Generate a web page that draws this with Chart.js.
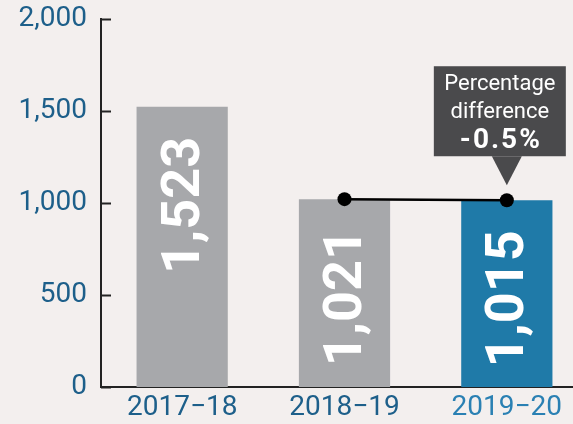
<!DOCTYPE html>
<html>
<head>
<meta charset="utf-8">
<script src="https://cdn.jsdelivr.net/npm/chart.js@4"></script>
<style>
  html, body { margin: 0; padding: 0; background: #f3efee; overflow: hidden; }
  #wrap { width: 595px; height: 424px; }
</style>
</head>
<body>
<div id="wrap"><canvas id="chart"></canvas></div>
<script>
const anos = ["2017\u221218", "2018\u221219", "2019\u221220"];
const valores = [1523, 1021, 1015];
const linha = [null, 1021, 1015];   // ligação entre os dois últimos anos
const yTicks = [0, 500, 1000, 1500, 2000];
const notaTexto = ["Percentage", "difference"];
const notaValor = "-0.5%";

const cinza = '#a7a8ab';
const azul = '#1f7aa8';
const azulTexto = '#1d5f8a';

// rótulos brancos rodados dentro das barras + marcas do eixo + caixa de nota
const extras = {
    id: 'extras',
    afterDatasetsDraw(chart) {
        const ctx = chart.ctx;
        const area = chart.chartArea;
        const y = chart.scales.y;

        // marcas do eixo y (para dentro)
        ctx.save();
        ctx.strokeStyle = '#222';
        ctx.lineWidth = 2;
        yTicks.forEach(v => {
            const py = Math.round(y.getPixelForValue(v)) + 0.5;
            ctx.beginPath();
            ctx.moveTo(area.left, py);
            ctx.lineTo(area.left + 10, py);
            ctx.stroke();
        });
        ctx.restore();

        // valores nas barras
        const barras = chart.getDatasetMeta(1).data;
        ctx.save();
        ctx.fillStyle = '#ffffff';
        ctx.font = 'bold 54px Roboto';
        ctx.textAlign = 'right';
        ctx.textBaseline = 'middle';
        barras.forEach((b, i) => {
            ctx.save();
            ctx.translate(b.x + 3, b.y + 30);
            ctx.rotate(-Math.PI / 2);
            ctx.fillText(valores[i].toLocaleString('en-US'), 0, 0);
            ctx.restore();
        });
        ctx.restore();

        // caixa "Percentage difference"
        const pts = chart.getDatasetMeta(0).data;
        const p = pts[pts.length - 1];
        const left = p.x - 73, right = p.x + 59;
        const top = p.y - 134, bottom = p.y - 44;
        ctx.save();
        ctx.fillStyle = '#4a4a4c';
        ctx.fillRect(left, top, right - left, bottom - top);
        ctx.beginPath();
        ctx.moveTo(p.x - 15, bottom);
        ctx.lineTo(p.x + 15, bottom);
        ctx.lineTo(p.x, p.y - 15);
        ctx.closePath();
        ctx.fill();
        const cx = (left + right) / 2;
        ctx.fillStyle = '#ffffff';
        ctx.textAlign = 'center';
        ctx.textBaseline = 'middle';
        ctx.font = '22px Roboto';
        ctx.fillText(notaTexto[0], cx, top + 18);
        ctx.fillText(notaTexto[1], cx, top + 46);
        ctx.font = 'bold 28px Roboto';
        ctx.letterSpacing = '2px';
        ctx.fillText(notaValor, cx + 1, top + 75);
        ctx.restore();
    }
};

const ctx = document.getElementById('chart').getContext('2d');
const grafico = new Chart(ctx, {
    data: {
        labels: anos,
        datasets: [
            {
                type: 'line',
                data: linha,
                borderColor: '#000',
                borderWidth: 2.5,
                pointRadius: 7,
                pointBackgroundColor: '#000',
                pointBorderWidth: 0,
                spanGaps: false,
                order: 0
            },
            {
                type: 'bar',
                data: valores,
                backgroundColor: [cinza, cinza, azul],
                categoryPercentage: 1,
                barPercentage: 0.562,
                order: 1
            }
        ]
    },
    options: {
        responsive: true,
        maintainAspectRatio: false,
        animation: false,
        layout: { padding: { top: 19, right: 0, left: 0, bottom: 0 } },
        plugins: {
            legend: { display: false },
            tooltip: { enabled: false }
        },
        scales: {
            x: {
                grid: { display: false, drawTicks: false },
                border: { color: '#222', width: 2 },
                ticks: {
                    padding: 4,
                    font: { family: 'Roboto', size: 28 },
                    color: c => c.index === 2 ? '#2a80b3' : azulTexto
                },
                afterFit: s => { s.height = 37; }
            },
            y: {
                min: 0,
                max: 2000,
                afterBuildTicks: s => { s.ticks = yTicks.map(v => ({ value: v })); },
                grid: { display: false, drawTicks: false },
                border: { color: '#222', width: 2 },
                ticks: {
                    padding: 14,
                    font: { family: 'Roboto', size: 28 },
                    color: azulTexto,
                    callback: v => v.toLocaleString('en-US')
                },
                afterFit: s => { s.width = 101; s.paddingTop = 0; s.paddingBottom = 0; }
            }
        }
    },
    plugins: [extras]
});
</script>
</body>
</html>
